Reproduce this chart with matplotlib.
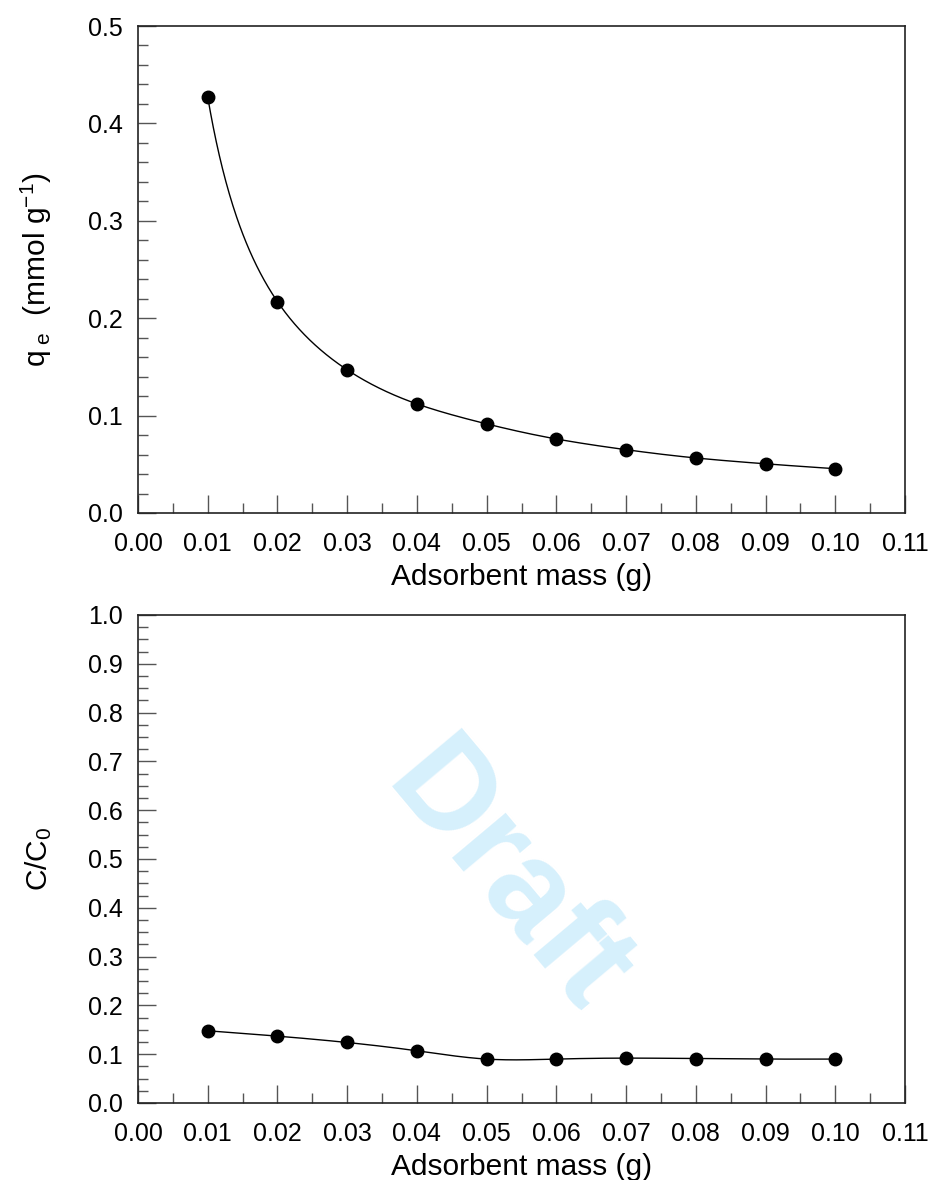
import numpy as np
import matplotlib
matplotlib.use("Agg")
import matplotlib.pyplot as plt
from matplotlib.ticker import MultipleLocator, FormatStrFormatter

plt.rcParams['font.family'] = ['Liberation Sans', 'DejaVu Sans']
plt.rcParams['mathtext.fontset'] = 'custom'
plt.rcParams['mathtext.rm'] = 'Liberation Sans'
plt.rcParams['mathtext.it'] = 'Liberation Sans'

mass = [0.01, 0.02, 0.03, 0.04, 0.05, 0.06, 0.07, 0.08, 0.09, 0.10]
qe = [0.427, 0.217, 0.147, 0.112, 0.0915, 0.076, 0.065, 0.0565, 0.0505, 0.0455]
c_c0 = [0.148, 0.137, 0.124, 0.107, 0.090, 0.090, 0.092, 0.091, 0.090, 0.090]


def spline(x, y, n=300):
    # natural cubic spline, just for the smooth line
    x = np.asarray(x, float)
    y = np.asarray(y, float)
    k = len(x)
    h = np.diff(x)
    A = np.zeros((k, k))
    b = np.zeros(k)
    A[0, 0] = A[-1, -1] = 1
    for i in range(1, k - 1):
        A[i, i - 1] = h[i - 1]
        A[i, i] = 2 * (h[i - 1] + h[i])
        A[i, i + 1] = h[i]
        b[i] = 6 * ((y[i + 1] - y[i]) / h[i] - (y[i] - y[i - 1]) / h[i - 1])
    M = np.linalg.solve(A, b)
    xs = np.linspace(x[0], x[-1], n)
    idx = np.clip(np.searchsorted(x, xs) - 1, 0, k - 2)
    x0, x1 = x[idx], x[idx + 1]
    hh = x1 - x0
    t0, t1 = x1 - xs, xs - x0
    ys = (M[idx] * t0**3 + M[idx + 1] * t1**3) / (6 * hh) \
        + (y[idx] / hh - M[idx] * hh / 6) * t0 \
        + (y[idx + 1] / hh - M[idx + 1] * hh / 6) * t1
    return xs, ys


fig = plt.figure(figsize=(9.3, 11.8), dpi=100)
W, H = 930, 1180
ax1 = fig.add_axes([138 / W, 1 - 513 / H, (905 - 138) / W, (513 - 26) / H])
ax2 = fig.add_axes([138 / W, 1 - 1103 / H, (905 - 138) / W, (1103 - 615) / H])

# top curve smoothed in log-log space, bottom one in linear space
lx, ly = spline(np.log(mass), np.log(qe))
curves = [(np.exp(lx), np.exp(ly)), spline(mass, c_c0)]

for ax, y, (xs, ys), ymax, ymin_step in [(ax1, qe, curves[0], 0.5, 0.02),
                                         (ax2, c_c0, curves[1], 1.0, 0.025)]:
    ax.plot(xs, ys, color='black', lw=1)
    ax.plot(mass, y, 'o', color='black', ms=9)
    ax.set_xlim(0, 0.11)
    ax.set_ylim(0, ymax)
    ax.xaxis.set_major_locator(MultipleLocator(0.01))
    ax.xaxis.set_minor_locator(MultipleLocator(0.005))
    ax.yaxis.set_major_locator(MultipleLocator(0.1))
    ax.yaxis.set_minor_locator(MultipleLocator(ymin_step))
    ax.xaxis.set_major_formatter(FormatStrFormatter('%.2f'))
    ax.yaxis.set_major_formatter(FormatStrFormatter('%.1f'))
    ax.tick_params(which='major', direction='in', length=13, width=1,
                   labelsize=18, color='#555555')
    ax.tick_params(which='minor', direction='in', length=7, width=1,
                   color='#555555')
    ax.tick_params(axis='x', pad=14)
    ax.tick_params(axis='y', pad=11)
    for s in ax.spines.values():
        s.set_linewidth(1.2)
        s.set_color('#222222')
    ax.set_xlabel('Adsorbent mass (g)', fontsize=21.5, labelpad=5)
    ax.yaxis.set_label_coords(-0.11, 0.5)

ax1.set_ylabel(r'q$_{\mathrm{\ e}}$  (mmol g$^{\mathrm{-1}}$)', fontsize=21.5)
ax2.set_ylabel(r'C/C$_{\mathrm{0}}$', fontsize=21.5)

fig.text(506 / W, 1 - 880 / H, 'Draft', fontsize=94, fontweight='bold',
         color='#d6f0fc', rotation=-50, ha='center', va='center', zorder=0)

fig.savefig('out.png', dpi=100)
